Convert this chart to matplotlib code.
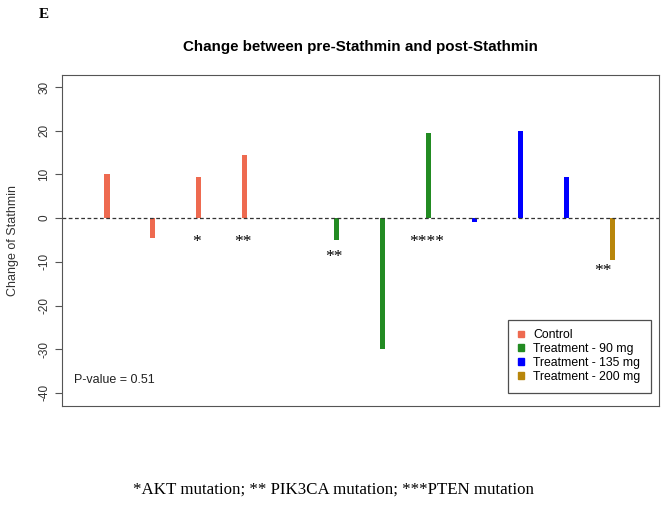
import matplotlib
matplotlib.use("Agg")
from matplotlib import pyplot as plt
from matplotlib.patches import Patch

# one slot per patient, slot 5 left empty
positions = [1, 2, 3, 4, 6, 7, 8, 9, 10, 11, 12]
changes = [10, -4.5, 9.5, 14.5, -5, -30, 19.5, -1, 20, 9.5, -9.5]
groups = ["Control", "Control", "Control", "Control",
          "Treatment - 90 mg", "Treatment - 90 mg", "Treatment - 90 mg",
          "Treatment - 135 mg", "Treatment - 135 mg", "Treatment - 135 mg",
          "Treatment - 200 mg"]
group_colors = {
    "Control": "#EE6A50",
    "Treatment - 90 mg": "#228B22",
    "Treatment - 135 mg": "#0000FF",
    "Treatment - 200 mg": "#B8860B",
}
# mutation stars: (position, y, text)
star_pos = [2.95, 3.95, 5.95, 7.95, 11.8]
star_y = [-5.5, -5.5, -9, -5.5, -12]
star_txt = ["*", "**", "**", "****", "**"]
yticks = [30, 20, 10, 0, -10, -20, -30, -40]

fig = plt.figure(figsize=(6.63, 5.05), dpi=100)
ax = fig.add_axes([0.0935, 0.196, 0.9005, 0.655])

colors = [group_colors[g] for g in groups]
ax.bar(positions, changes, width=0.11, color=colors, linewidth=0)
ax.axhline(0, color="#333333", linestyle=(0, (3, 2)), linewidth=0.9)

for p, y, t in zip(star_pos, star_y, star_txt):
    ax.text(p, y, t, ha="center", va="center", fontsize=12.5,
            family="Liberation Serif")

ax.set_xlim(0.02, 13.02)
ax.set_ylim(-43, 32.7)
ax.set_xticks([])
ax.set_yticks(yticks)
ax.set_yticklabels([str(v) for v in yticks], rotation=90, va="center",
                   family="Liberation Sans", fontsize=8.5, color="#333333")
ax.tick_params(axis="y", length=5, color="#555555")
for s in ax.spines.values():
    s.set_color("#555555")
ax.set_ylabel("Change of Stathmin", family="Liberation Sans", fontsize=9,
              color="#333333", labelpad=14)

ax.text(0.02, 0.07, "P-value = 0.51", transform=ax.transAxes,
        family="Liberation Sans", fontsize=9, color="#222222")

handles = [Patch(color=c, label=g) for g, c in group_colors.items()]
leg = ax.legend(handles=handles, loc="lower right", fancybox=False,
                prop={"family": "Liberation Sans", "size": 8.8},
                handlelength=0.5, handleheight=0.5, handletextpad=0.8,
                labelspacing=0.15, borderpad=0.8, bbox_to_anchor=(0.996, 0.022))
leg.get_frame().set_edgecolor("#222222")
leg.get_frame().set_linewidth(0.9)

fig.text(0.543, 0.907, "Change between pre-Stathmin and post-Stathmin",
         ha="center", va="center", family="Liberation Sans",
         fontsize=10.9, fontweight="bold")
fig.text(0.066, 0.972, "E", ha="center", va="center",
         family="Liberation Serif", fontsize=11, fontweight="bold")
fig.text(0.503, 0.03, "*AKT mutation; ** PIK3CA mutation; ***PTEN mutation",
         ha="center", va="center", family="Liberation Serif", fontsize=12.2)

fig.savefig("out.png", dpi=100)
